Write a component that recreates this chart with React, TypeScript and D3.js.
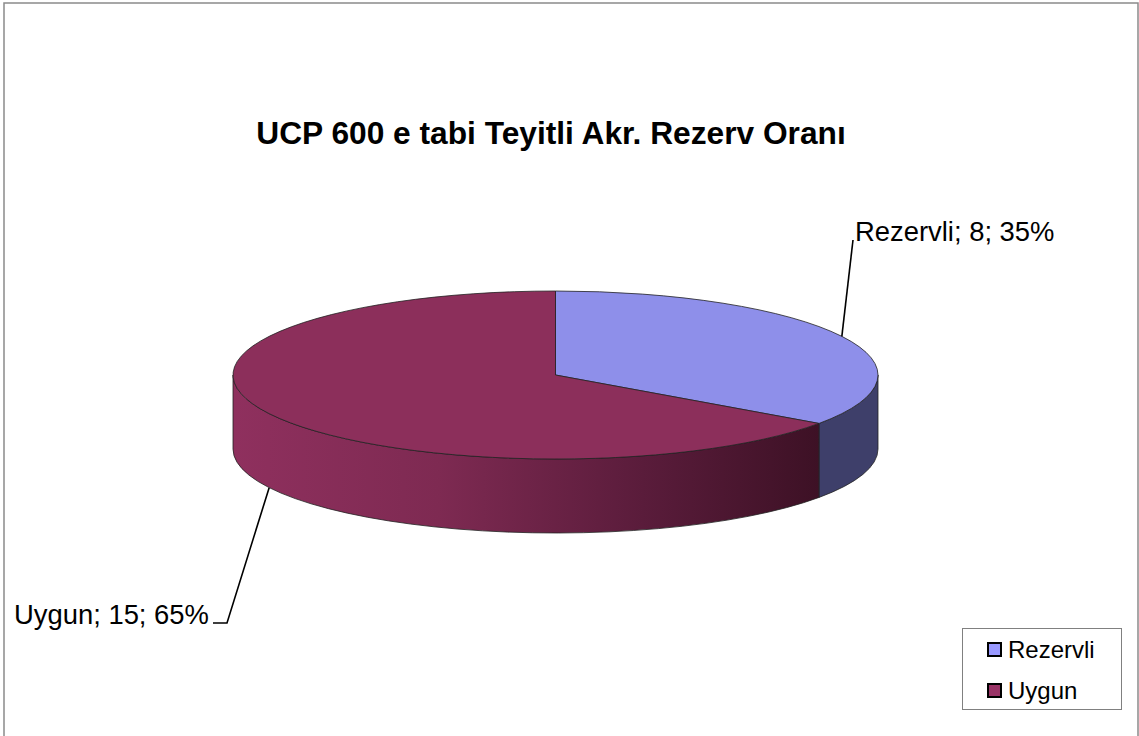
import * as d3 from "d3";
import React from "react";

// data
const categories = ["Rezervli", "Uygun"];
const values = [8, 15];
const topColors = ["#8e8fea", "#8c2f5b"];
const legendColors = ["#9999ff", "#993366"];

const W = 1139;
const H = 736;
const font = "'Liberation Sans', Arial, sans-serif";

export default function App() {
  // pie geometry
  const cx = 555.5, cy = 375, rx = 322.5, ry = 84, depth = 74;
  const total = d3.sum(values);
  const arcs = d3.pie<number>().sort(null)(values);

  const pt = (a: number, dz = 0): [number, number] => [
    cx + rx * Math.sin(a),
    cy - ry * Math.cos(a) + dz,
  ];

  const topPath = (a0: number, a1: number) => {
    const p0 = pt(a0), p1 = pt(a1);
    const large = a1 - a0 > Math.PI ? 1 : 0;
    return `M${cx},${cy}L${p0[0]},${p0[1]}A${rx},${ry} 0 ${large} 1 ${p1[0]},${p1[1]}Z`;
  };

  const sidePath = (a0: number, a1: number) => {
    const s = Math.max(a0, Math.PI / 2);
    const e = Math.min(a1, (3 * Math.PI) / 2);
    if (e <= s) return null;
    const p0 = pt(s), p1 = pt(e), p2 = pt(e, depth), p3 = pt(s, depth);
    return `M${p0[0]},${p0[1]}A${rx},${ry} 0 0 1 ${p1[0]},${p1[1]}L${p2[0]},${p2[1]}A${rx},${ry} 0 0 0 ${p3[0]},${p3[1]}Z`;
  };

  const pct = (v: number) => Math.round((v / total) * 100) + "%";

  // leader anchors from slice mid angles
  const midR = (arcs[0].startAngle + arcs[0].endAngle) / 2;
  const midU = (arcs[1].startAngle + arcs[1].endAngle) / 2;
  const aR = pt(midR);
  const aU = pt(midU, depth);

  const sideL = pt(arcs[1].endAngle > (3 * Math.PI) / 2 ? (3 * Math.PI) / 2 : arcs[1].endAngle);
  const sideR = pt(arcs[1].startAngle);

  return (
    <svg width={W} height={H} style={{ position: "absolute", left: 0, top: 0, background: "#fff" }}>
      <defs>
        <linearGradient id="uygunSide" gradientUnits="userSpaceOnUse" x1={sideL[0]} x2={sideR[0]} y1={0} y2={0}>
          <stop offset="0" stopColor="#8f305e" />
          <stop offset="0.35" stopColor="#7e2a52" />
          <stop offset="0.7" stopColor="#5a1c3b" />
          <stop offset="1" stopColor="#3d1125" />
        </linearGradient>
      </defs>
      <rect x={4} y={3} width={1134} height={760} fill="none" stroke="#8a8a8a" strokeWidth={1.5} />

      <text x={551} y={144} textAnchor="middle" fontFamily={font} fontWeight="bold" fontSize={31.7} fill="#000">
        UCP 600 e tabi Teyitli Akr. Rezerv Oranı
      </text>

      {/* sides */}
      {arcs.map((a, i) => {
        const d = sidePath(a.startAngle, a.endAngle);
        return d ? (
          <path key={"s" + i} d={d} fill={i === 1 ? "url(#uygunSide)" : "#3e3f6a"} stroke="#222" strokeWidth={0.8} />
        ) : null;
      })}
      {/* tops */}
      {arcs.map((a, i) => (
        <path key={"t" + i} d={topPath(a.startAngle, a.endAngle)} fill={topColors[i]} stroke="#222" strokeWidth={0.8} />
      ))}

      {/* leader lines & labels */}
      <polyline points={`${aR[0]},${aR[1]} 853,240`} fill="none" stroke="#000" strokeWidth={1.6} />
      <text x={855} y={241} fontFamily={font} fontSize={27.4} fill="#000">
        {`${categories[0]}; ${values[0]}; ${pct(values[0])}`}
      </text>
      <polyline points={`${aU[0]},${aU[1]} 227,623 213,623`} fill="none" stroke="#000" strokeWidth={1.6} />
      <text x={14} y={624} fontFamily={font} fontSize={27.4} fill="#000">
        {`${categories[1]}; ${values[1]}; ${pct(values[1])}`}
      </text>

      {/* legend */}
      <rect x={962.5} y={628.5} width={159} height={81} fill="#fff" stroke="#808080" strokeWidth={1} />
      {categories.map((c, i) => (
        <g key={c} transform={`translate(988,${643 + i * 41})`}>
          <rect x={0} y={0} width={13} height={13} fill={legendColors[i]} stroke="#000" strokeWidth={2} />
          <text x={20} y={15} fontFamily={font} fontSize={24} fill="#000">{c}</text>
        </g>
      ))}
    </svg>
  );
}
